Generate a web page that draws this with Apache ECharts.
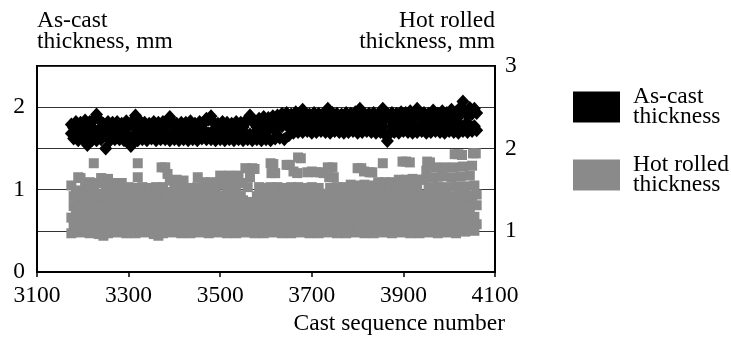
<!DOCTYPE html>
<html>
<head>
<meta charset="utf-8">
<script src="https://cdn.jsdelivr.net/npm/echarts@6/dist/echarts.min.js"></script>
<style>
html,body{margin:0;padding:0;background:#fff;}
#chart{width:731px;height:338px;}
</style>
</head>
<body>
<div id="chart"></div>
<script>
// Cast sequence numbers (x values)
const castNumbers = [
3175,3180,3185,3190,3195,3200,3205,3210,3215,3220,
3225,3230,3235,3240,3245,3250,3255,3260,3265,3270,
3275,3280,3285,3290,3295,3300,3305,3310,3315,3320,
3325,3330,3335,3340,3345,3350,3355,3360,3365,3370,
3375,3380,3385,3390,3395,3400,3405,3410,3415,3420,
3425,3430,3435,3440,3445,3450,3455,3460,3465,3470,
3475,3480,3485,3490,3495,3500,3505,3510,3515,3520,
3525,3530,3535,3540,3545,3550,3555,3560,3565,3570,
3575,3580,3585,3590,3595,3600,3605,3610,3615,3620,
3625,3630,3635,3640,3645,3650,3655,3660,3665,3670,
3675,3680,3685,3690,3695,3700,3705,3710,3715,3720,
3725,3730,3735,3740,3745,3750,3755,3760,3765,3770,
3775,3780,3785,3790,3795,3800,3805,3810,3815,3820,
3825,3830,3835,3840,3845,3850,3855,3860,3865,3870,
3875,3880,3885,3890,3895,3900,3905,3910,3915,3920,
3925,3930,3935,3940,3945,3950,3955,3960,3965,3970,
3975,3980,3985,3990,3995,4000,4005,4010,4015,4020,
4025,4030,4035,4040,4045,4050,4055,4060
];

// As-cast thickness, mm (left axis) - upper and lower readings of the band
const asCastUpper = [
1.79,1.75,1.82,1.74,1.81,1.76,1.84,1.75,1.82,1.76,
1.86,1.91,1.85,1.75,1.80,1.74,1.82,1.75,1.81,1.76,
1.82,1.75,1.80,1.74,1.83,1.76,1.81,1.78,1.90,1.84,
1.83,1.75,1.81,1.74,1.80,1.76,1.82,1.75,1.81,1.75,
1.82,1.76,1.84,1.88,1.82,1.75,1.80,1.74,1.81,1.75,
1.81,1.75,1.83,1.74,1.80,1.76,1.82,1.75,1.81,1.86,
1.85,1.89,1.82,1.75,1.80,1.74,1.82,1.75,1.81,1.76,
1.80,1.75,1.82,1.74,1.81,1.76,1.83,1.84,1.90,1.83,
1.81,1.76,1.86,1.80,1.88,1.81,1.87,1.80,1.89,1.82,
1.90,1.84,1.92,1.85,1.93,1.86,1.91,1.85,1.94,1.86,
1.93,1.97,1.92,1.85,1.91,1.86,1.93,1.85,1.92,1.86,
1.92,1.85,1.98,1.86,1.93,1.85,1.92,1.86,1.91,1.85,
1.93,1.86,1.92,1.85,1.94,1.86,1.98,1.85,1.92,1.86,
1.92,1.85,1.93,1.86,1.91,1.87,1.98,1.85,1.92,1.86,
1.93,1.85,1.92,1.86,1.94,1.85,1.93,1.86,1.95,1.86,
1.94,1.98,1.92,1.86,1.93,1.85,1.92,1.86,1.96,1.85,
1.92,1.86,1.95,1.85,1.93,1.86,1.97,1.85,1.94,1.88,
2.00,2.07,1.95,1.90,1.99,1.92,1.98,1.93
];
const asCastLower = [
1.68,1.62,1.69,1.60,1.67,1.61,1.68,1.54,1.67,1.60,
1.68,1.60,1.67,1.61,1.68,1.50,1.66,1.60,1.68,1.61,
1.68,1.61,1.69,1.60,1.67,1.60,1.53,1.61,1.68,1.60,
1.67,1.61,1.68,1.60,1.67,1.62,1.68,1.60,1.67,1.61,
1.68,1.61,1.67,1.60,1.68,1.61,1.67,1.60,1.68,1.61,
1.67,1.60,1.68,1.61,1.67,1.60,1.68,1.62,1.67,1.61,
1.68,1.61,1.67,1.60,1.68,1.61,1.67,1.60,1.68,1.61,
1.67,1.60,1.68,1.61,1.67,1.60,1.68,1.61,1.67,1.60,
1.68,1.61,1.70,1.60,1.72,1.61,1.73,1.60,1.74,1.62,
1.75,1.63,1.77,1.61,1.78,1.66,1.78,1.69,1.78,1.70,
1.78,1.70,1.77,1.71,1.78,1.69,1.79,1.70,1.77,1.71,
1.78,1.70,1.77,1.69,1.78,1.71,1.77,1.70,1.78,1.69,
1.77,1.70,1.78,1.71,1.77,1.69,1.78,1.70,1.77,1.71,
1.78,1.70,1.77,1.69,1.78,1.70,1.76,1.67,1.59,1.68,
1.77,1.70,1.78,1.69,1.77,1.71,1.78,1.70,1.77,1.69,
1.78,1.70,1.77,1.71,1.78,1.69,1.77,1.70,1.78,1.71,
1.77,1.70,1.78,1.69,1.77,1.71,1.78,1.70,1.77,1.69,
1.78,1.71,1.79,1.70,1.78,1.71,1.77,1.72
];

// Hot rolled thickness, mm (right axis) - low, mid and high readings of the band
const hotRolledLow = [
0.97,1.08,1.01,1.12,0.98,1.07,1.02,1.11,0.97,1.08,
1.01,1.12,0.96,1.07,0.94,1.11,0.97,1.08,1.02,1.12,
0.98,1.07,1.01,1.11,0.97,1.08,1.02,1.12,0.97,1.07,
1.01,1.11,0.98,1.08,1.02,1.12,0.96,1.07,0.94,1.11,
0.97,1.08,1.01,1.12,0.98,1.07,1.02,1.11,0.97,1.08,
1.01,1.12,0.97,1.07,1.02,1.11,0.98,1.08,1.01,1.12,
0.97,1.07,1.02,1.11,0.98,1.08,1.01,1.12,0.97,1.07,
1.02,1.11,0.97,1.08,1.01,1.12,0.98,1.07,1.02,1.11,
0.97,1.08,1.01,1.12,0.97,1.07,1.02,1.11,0.98,1.08,
1.01,1.12,0.97,1.07,1.02,1.11,0.97,1.08,1.01,1.12,
0.98,1.07,1.02,1.11,0.97,1.08,1.01,1.12,0.97,1.07,
1.02,1.11,0.98,1.08,1.01,1.12,0.97,1.07,1.02,1.11,
0.97,1.08,1.01,1.12,0.98,1.07,1.02,1.11,0.97,1.08,
1.01,1.12,0.97,1.07,1.02,1.11,0.98,1.08,1.01,1.12,
0.97,1.07,1.02,1.11,0.98,1.08,1.01,1.12,0.97,1.07,
1.02,1.11,0.97,1.08,1.01,1.12,0.98,1.07,1.02,1.11,
0.97,1.08,1.01,1.12,0.98,1.07,1.02,1.11,0.97,1.08,
1.01,1.12,0.99,1.07,1.02,1.11,1.00,1.08
];
const hotRolledMid = [
1.16,1.30,1.22,1.36,1.17,1.29,1.23,1.35,1.16,1.31,
1.22,1.36,1.15,1.30,1.23,1.37,1.16,1.29,1.22,1.35,
1.17,1.30,1.21,1.36,1.16,1.31,1.22,1.35,1.17,1.29,
1.23,1.36,1.16,1.30,1.22,1.35,1.15,1.31,1.23,1.36,
1.16,1.29,1.22,1.37,1.17,1.30,1.21,1.35,1.16,1.31,
1.22,1.36,1.15,1.30,1.23,1.35,1.17,1.29,1.22,1.36,
1.16,1.30,1.23,1.36,1.15,1.31,1.22,1.35,1.17,1.30,
1.21,1.36,1.16,1.29,1.22,1.37,1.16,1.30,1.23,1.35,
1.17,1.31,1.22,1.36,1.16,1.30,1.21,1.35,1.17,1.29,
1.23,1.36,1.15,1.30,1.22,1.36,1.16,1.31,1.22,1.35,
1.16,1.29,1.23,1.36,1.17,1.30,1.22,1.35,1.15,1.31,
1.22,1.36,1.16,1.30,1.21,1.37,1.17,1.29,1.23,1.36,
1.16,1.30,1.22,1.35,1.15,1.31,1.23,1.36,1.16,1.29,
1.22,1.36,1.17,1.30,1.22,1.35,1.16,1.31,1.21,1.36,
1.15,1.30,1.23,1.36,1.16,1.29,1.22,1.37,1.17,1.30,
1.22,1.35,1.16,1.31,1.23,1.36,1.15,1.30,1.22,1.36,
1.17,1.29,1.22,1.35,1.16,1.31,1.23,1.36,1.15,1.30,
1.22,1.36,1.16,1.30,1.23,1.35,1.17,1.31
];
const hotRolledHigh = [
1.55,1.42,1.49,1.65,1.64,1.43,1.53,1.47,1.59,1.42,
1.53,1.58,1.43,1.64,1.45,1.54,1.63,1.42,1.52,1.58,
1.46,1.52,1.58,1.42,1.47,1.53,1.43,1.47,1.52,1.41,
1.46,1.53,1.42,1.48,1.52,1.41,1.47,1.53,1.43,1.48,
1.53,1.42,1.47,1.61,1.43,1.53,1.62,1.42,1.52,1.61,
1.43,1.40,1.52,1.46,1.42,1.53,1.47,1.41,1.59,1.52,
1.45,1.59,1.42,1.53,1.58,1.67,1.43,1.56,1.49,1.67,
1.42,1.57,1.49,1.67,1.43,1.58,1.76,1.53,1.65,1.76,
1.75,1.42,1.53,1.46,1.52,1.41,1.47,1.53,1.42,1.48,
1.53,1.43,1.47,1.52,1.41,1.48,1.53,1.42,1.47,1.53,
1.42,1.48,1.52,1.41,1.47,1.53,1.43,1.46,1.52,1.42,
1.45,1.40,1.43,1.52,1.42,1.47,1.53,1.41,1.48,1.53,
1.42,1.48,1.56,1.43,1.50,1.55,1.42,1.49,1.56,1.43,
1.50,1.55,1.42,1.49,1.59,1.43,1.52,1.59,1.42,1.51,
1.59,1.43,1.52,1.62,1.42,1.53,1.62,1.43,1.52,1.63,
1.42,1.53,1.62,1.44,1.62,1.73,1.53,1.43,1.65,1.77,
1.54,1.43,1.66,1.77,1.53,1.42,1.65,1.77,1.54,1.43,
1.66,1.78,1.54,1.43,1.67,1.79,1.55,1.44
];
// Isolated hot rolled readings above the main band
const hotRolledOutlierCasts = [3224,3320,3320,3372,3380,3385,3451,3610,3616,3612,3620,3645,3652,3660,3670,3676,3668,3690,3700,3710,3720,3726,3735,3745,3738,3748,3800,3808,3814,3826,3832,3855,3898,3906,3914,3952,3958,4012,4020,4028,4052,4058];
const hotRolledOutlierValues = [1.82,1.82,1.65,1.77,1.77,1.69,1.65,1.82,1.81,1.70,1.70,1.80,1.80,1.72,1.89,1.88,1.70,1.71,1.72,1.71,1.71,1.70,1.77,1.77,1.65,1.65,1.76,1.76,1.72,1.71,1.71,1.82,1.84,1.84,1.83,1.84,1.83,1.93,1.93,1.92,1.94,1.94];

// Tick labels shown
const leftTickLabels = [0, 1, 2];
const rightTickLabels = [1, 2, 3];

const FONT = 'Liberation Serif';
const FS = 23.5;
const AS_CAST = 'As-cast\nthickness';
const HOT = 'Hot rolled\nthickness';
const GRAY = '#8a8a8a';

function pairs(xs, ys) { return xs.map((x, i) => [x, ys[i]]); }

const chart = echarts.init(document.getElementById('chart'), null, {renderer: 'canvas'});

const graySeries = (data) => ({
  name: HOT, type: 'scatter', yAxisIndex: 1, data: data,
  symbol: 'rect', symbolSize: 10, silent: true, large: false, progressive: 0,
  itemStyle: {color: GRAY, opacity: 1, borderWidth: 0}, z: 2
});
const blackSeries = (data) => ({
  name: AS_CAST, type: 'scatter', yAxisIndex: 0, data: data,
  symbol: 'diamond', symbolSize: [13, 14], silent: true, large: false, progressive: 0,
  itemStyle: {color: '#000', opacity: 1, borderWidth: 0}, z: 3
});

chart.setOption({
  animation: false,
  backgroundColor: '#fff',
  textStyle: {fontFamily: FONT, color: '#000'},
  grid: {left: 37, right: 236, top: 66, height: 206, show: true, borderColor: '#000', borderWidth: 2, backgroundColor: 'transparent', containLabel: false},
  legend: {
    orient: 'vertical', left: 568, top: 80, itemWidth: 47, itemHeight: 31, itemGap: 24,
    selectedMode: false,
    data: [{name: AS_CAST, icon: 'rect'}, {name: HOT, icon: 'rect'}],
    itemStyle: {borderWidth: 0},
    textStyle: {fontFamily: FONT, fontSize: FS, lineHeight: 20, color: '#000', padding: [0, 0, 0, 8]}
  },
  xAxis: {
    type: 'value', min: 3100, max: 4100, interval: 200,
    axisLine: {show: true, onZero: false, lineStyle: {color: '#000', width: 2}},
    axisTick: {show: true, length: 5, lineStyle: {color: '#000', width: 1.5}},
    axisLabel: {fontFamily: FONT, fontSize: FS, lineHeight: 23, color: '#000', margin: 12,
      formatter: v => String(v)},
    splitLine: {show: false}
  },
  yAxis: [{
    type: 'value', min: 0, max: 2.5, interval: 0.5, position: 'left',
    axisLine: {show: true, lineStyle: {color: '#000', width: 2}},
    axisTick: {show: false},
    axisLabel: {fontFamily: FONT, fontSize: FS, color: '#000', margin: 12,
      formatter: v => leftTickLabels.includes(v) ? String(v) : ''},
    splitLine: {show: true, lineStyle: {color: '#333', width: 1}},
    name: 'As-cast\nthickness, mm', nameLocation: 'end', nameGap: 14,
    nameTextStyle: {fontFamily: FONT, fontSize: FS, lineHeight: 21, color: '#000', align: 'left', verticalAlign: 'bottom'}
  }, {
    type: 'value', min: 0.5, max: 3, interval: 0.5, position: 'right',
    axisLine: {show: true, lineStyle: {color: '#000', width: 2}},
    axisTick: {show: false},
    axisLabel: {fontFamily: FONT, fontSize: FS, color: '#000', margin: 10,
      formatter: v => rightTickLabels.includes(v) ? String(v) : ''},
    splitLine: {show: false},
    name: 'Hot rolled\nthickness, mm', nameLocation: 'end', nameGap: 14,
    nameTextStyle: {fontFamily: FONT, fontSize: FS, lineHeight: 21, color: '#000', align: 'right', verticalAlign: 'bottom'}
  }],
  graphic: [{
    type: 'text', silent: true,
    style: {x: 505, y: 324, text: 'Cast sequence number', font: FS + 'px "Liberation Serif"', fill: '#000', align: 'right', verticalAlign: 'middle'}
  }],
  series: [
    graySeries(pairs(castNumbers, hotRolledLow)),
    graySeries(pairs(castNumbers, hotRolledMid)),
    graySeries(pairs(castNumbers, hotRolledHigh)),
    graySeries(pairs(hotRolledOutlierCasts, hotRolledOutlierValues)),
    blackSeries(pairs(castNumbers, asCastUpper)),
    blackSeries(pairs(castNumbers, asCastLower))
  ]
});
</script>
</body>
</html>
